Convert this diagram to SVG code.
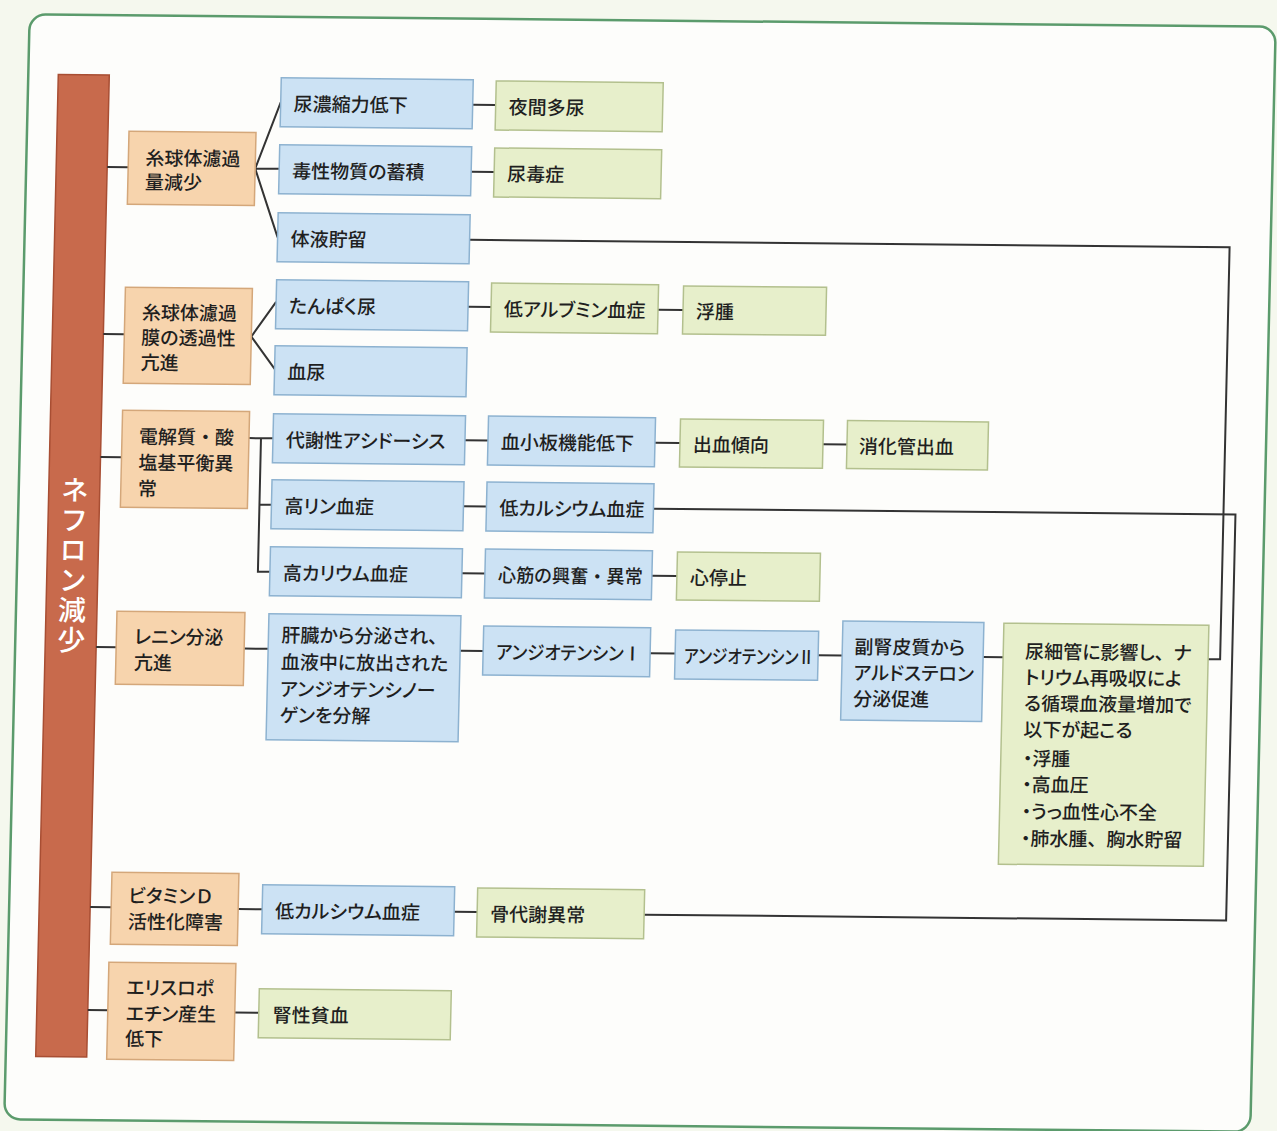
<svg xmlns="http://www.w3.org/2000/svg" width="1277" height="1131" viewBox="0 0 1277 1131">
<style>
.o{fill:#f7d4ad;stroke:#d4a77a;stroke-width:1.5}
.b{fill:#cce2f4;stroke:#8db2d0;stroke-width:1.5}
.g{fill:#e7efcb;stroke:#b3c08e;stroke-width:1.5}
text{font-family:"Noto Sans CJK JP","Noto Sans",sans-serif;font-size:19px;font-weight:500;fill:#1f1f1f;dominant-baseline:central;font-feature-settings:"palt"}
.p{font-feature-settings:normal}
.c path{fill:none;stroke:#333;stroke-width:2}
</style>
<rect x="0" y="0" width="1277" height="1131" fill="#f5f8ee"/>
<g transform="matrix(1 0.01 -0.023 1 0 0)">
<rect id="frame" x="30" y="14" width="1246" height="1105" rx="16" fill="#fdfdfb" stroke="#5b9b6c" stroke-width="2.5"/>

<g id="n-nephron">
<rect x="60" y="74" width="51" height="982" fill="#c86a4c" stroke="#a84e33" stroke-width="1.5"/>
<text x="86" y="565" text-anchor="middle" style="writing-mode:vertical-rl;font-size:28px;fill:#fff;font-feature-settings:normal" letter-spacing="2">ネフロン減少</text>
</g>

<g class="c" id="connectors">
<path d="M111,166 H132 M111,333 H132 M111,456 H132 M111,646 H132 M111,906 H132 M111,1009 H132"/>
<path d="M259,166 L283,99.5 M259,166 H283 M259,166 L283,234.5"/>
<path d="M259,334 L283,299 M259,334 L283,366"/>
<path d="M259,435.5 H283 M271,435.5 V569 H283 M271,502 H283"/>
<path d="M259,646 H283 M259,906.5 H283 M258,1010 H283"/>
<path d="M475,100 H498 M475,167 H498 M475,302 H498 M475,435.5 H498 M475,501.5 H498 M475,568.5 H498 M475,646 H498 M475,907 H498"/>
<path d="M665,303 H690 M665,436 H690 M665,569 H690 M665,646.5 H690"/>
<path d="M833,436 H857 M833,647 H857 M998,647 H1018"/>
<path d="M475,235 H1235 V647 H1223"/>
<path d="M665,502 H1247 V908 H665"/>
</g>

<g id="n-gfr">
<rect class="o" x="132" y="130" width="127" height="73"/>
<text><tspan x="149" y="154.5">糸球体濾過</tspan><tspan x="149" y="178.5">量減少</tspan></text>
</g>
<g id="n-perm">
<rect class="o" x="132" y="286" width="127" height="96"/>
<text><tspan x="149" y="309">糸球体濾過</tspan><tspan x="149" y="334">膜の透過性</tspan><tspan x="149" y="359">亢進</tspan></text>
</g>
<g id="n-electro">
<rect class="o" x="132" y="409" width="127" height="97"/>
<text><tspan x="149" y="433">電解質<tspan class="p">・</tspan>酸</tspan><tspan x="149" y="459">塩基平衡異</tspan><tspan x="149" y="485">常</tspan></text>
</g>
<g id="n-renin">
<rect class="o" x="131" y="610" width="128" height="73"/>
<text><tspan x="149" y="633">レニン分泌</tspan><tspan x="149" y="659">亢進</tspan></text>
</g>
<g id="n-vitd">
<rect class="o" x="132" y="871" width="127" height="72"/>
<text><tspan x="149" y="892">ビタミン<tspan class="p">Ｄ</tspan></tspan><tspan x="149" y="918">活性化障害</tspan></text>
</g>
<g id="n-epo">
<rect class="o" x="131" y="961" width="127" height="97"/>
<text><tspan x="149" y="984">エリスロポ</tspan><tspan x="149" y="1010">エチン産生</tspan><tspan x="149" y="1035">低下</tspan></text>
</g>

<g id="n-conc"><rect class="b" x="283" y="75" width="192" height="49"/><text x="296" y="99.5">尿濃縮力低下</text></g>
<g id="n-toxic"><rect class="b" x="283" y="142" width="192" height="49"/><text x="296" y="166.5">毒性物質の蓄積</text></g>
<g id="n-fluid"><rect class="b" x="283" y="210" width="192" height="49"/><text x="296" y="234.5">体液貯留</text></g>
<g id="n-protein"><rect class="b" x="283" y="277" width="192" height="49"/><text x="296" y="301.5">たんぱく尿</text></g>
<g id="n-hematuria"><rect class="b" x="283" y="343" width="192" height="49"/><text x="296" y="367.5">血尿</text></g>
<g id="n-acidosis"><rect class="b" x="283" y="411" width="192" height="49"/><text x="296" y="435.5">代謝性アシドーシス</text></g>
<g id="n-hyperp"><rect class="b" x="283" y="477" width="192" height="49"/><text x="296" y="501.5">高リン血症</text></g>
<g id="n-hyperk"><rect class="b" x="283" y="544" width="192" height="49"/><text x="296" y="568.5">高カリウム血症</text></g>
<g id="n-liver"><rect class="b" x="283" y="611" width="192" height="126"/>
<text><tspan x="296" y="630">肝臓から分泌され<tspan class="p">、</tspan></tspan><tspan x="296" y="657">血液中に放出された</tspan><tspan x="296" y="684">アンジオテンシノー</tspan><tspan x="296" y="710">ゲンを分解</tspan></text></g>
<g id="n-hypoca2"><rect class="b" x="283" y="882" width="192" height="49"/><text x="296" y="906.5">低カルシウム血症</text></g>
<g id="n-anemia"><rect class="g" x="282" y="986" width="192" height="49"/><text x="296" y="1010.5">腎性貧血</text></g>

<g id="n-nocturia"><rect class="g" x="498" y="76" width="167" height="49"/><text x="511" y="100.5">夜間多尿</text></g>
<g id="n-uremia"><rect class="g" x="498" y="143" width="167" height="49"/><text x="511" y="167.5">尿毒症</text></g>
<g id="n-hypoalb"><rect class="g" x="498" y="278" width="167" height="49"/><text x="511" y="302.5">低アルブミン血症</text></g>
<g id="n-platelet"><rect class="b" x="498" y="411" width="167" height="49"/><text x="511" y="435.5">血小板機能低下</text></g>
<g id="n-hypoca"><rect class="b" x="498" y="477" width="167" height="49"/><text x="511" y="501.5">低カルシウム血症</text></g>
<g id="n-myocard"><rect class="b" x="498" y="544" width="167" height="49"/><text x="511" y="568.5" textLength="145" lengthAdjust="spacingAndGlyphs">心筋の興奮<tspan class="p">・</tspan>異常</text></g>
<g id="n-ang1"><rect class="b" x="498" y="621" width="167" height="49"/><text x="511" y="645.5" textLength="145" lengthAdjust="spacingAndGlyphs">アンジオテンシンⅠ</text></g>
<g id="n-bone"><rect class="g" x="498" y="883" width="167" height="49"/><text x="511" y="907.5">骨代謝異常</text></g>

<g id="n-edema"><rect class="g" x="690" y="279" width="143" height="48"/><text x="703" y="303">浮腫</text></g>
<g id="n-bleed"><rect class="g" x="690" y="412" width="143" height="48"/><text x="703" y="436">出血傾向</text></g>
<g id="n-arrest"><rect class="g" x="690" y="545" width="143" height="48"/><text x="703" y="569">心停止</text></g>
<g id="n-ang2"><rect class="b" x="690" y="623" width="143" height="49"/><text x="699" y="647.5" textLength="130" lengthAdjust="spacingAndGlyphs">アンジオテンシンⅡ</text></g>

<g id="n-gibleed"><rect class="g" x="857" y="412" width="141" height="48"/><text x="869" y="436">消化管出血</text></g>
<g id="n-aldo"><rect class="b" x="857" y="612.5" width="141" height="99"/>
<text><tspan x="869" y="636">副腎皮質から</tspan><tspan x="869" y="662">アルドステロン</tspan><tspan x="869" y="688">分泌促進</tspan></text></g>

<g id="n-tubule"><rect class="g" x="1018" y="613" width="205" height="241"/>
<text><tspan x="1040" y="639">尿細管に影響し<tspan class="p">、</tspan>ナ</tspan><tspan x="1040" y="665">トリウム再吸収によ</tspan><tspan x="1040" y="691">る循環血液量増加で</tspan><tspan x="1040" y="717">以下が起こる</tspan><tspan x="1040" y="746">・浮腫</tspan><tspan x="1040" y="772">・高血圧</tspan><tspan x="1040" y="799">・うっ血性心不全</tspan><tspan x="1040" y="826">・肺水腫<tspan class="p">、</tspan>胸水貯留</tspan></text></g>
</g>
</svg>
